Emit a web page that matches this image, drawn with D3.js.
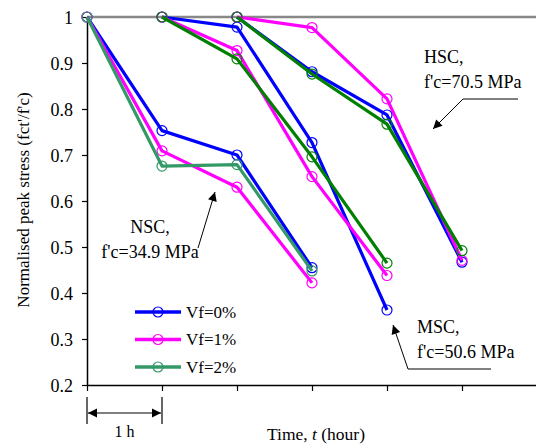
<!DOCTYPE html>
<html>
<head>
<meta charset="utf-8">
<script src="https://cdn.jsdelivr.net/npm/d3@7"></script>
<style>
  body { margin: 0; background: #fff; }
</style>
</head>
<body>
<svg id="chart" width="536" height="446"></svg>
<script>
// hours from start of exposure
var nscTime = [0, 1, 2, 3];
var mscTime = [1, 2, 3, 4];
var hscTime = [2, 3, 4, 5];

// normalised peak stress
var nscVf0 = [1, 0.753, 0.700, 0.455];
var nscVf1 = [1, 0.709, 0.630, 0.422];
var nscVf2 = [1, 0.676, 0.679, 0.448];

var mscVf0 = [1, 0.978, 0.727, 0.363];
var mscVf1 = [1, 0.927, 0.653, 0.438];
var mscVf2 = [1, 0.909, 0.696, 0.465];

var hscVf0 = [1, 0.881, 0.787, 0.467];
var hscVf1 = [1, 0.977, 0.822, 0.471];
var hscVf2 = [1, 0.876, 0.767, 0.492];

var yTicks = [0.2, 0.3, 0.4, 0.5, 0.6, 0.7, 0.8, 0.9, 1];
var xTicks = [0, 1, 2, 3, 4, 5, 6];
var legendLabels = ["Vf=0%", "Vf=1%", "Vf=2%"];

var blue = "#0000ff", pink = "#ff00ff", seaGreen = "#339966", green = "#008000";
var serif = "'Liberation Serif', 'Times New Roman', Times, 'DejaVu Serif', serif";

var svg = d3.select("#chart");
var x = d3.scaleLinear().domain([0, 6]).range([87, 537]);
var y = d3.scaleLinear().domain([0.2, 1]).range([385, 17]);

// reference line at 1
svg.append("line")
  .attr("x1", x(0)).attr("x2", 536)
  .attr("y1", y(1)).attr("y2", y(1))
  .attr("stroke", "#888").attr("stroke-width", 2.5);

// axes
var yAxis = svg.append("g")
  .attr("transform", "translate(" + x(0) + ",0)")
  .call(d3.axisLeft(y).tickValues(yTicks).tickSize(5).tickSizeOuter(0)
    .tickFormat(function(d) { return d === 1 ? "1" : d.toFixed(1); }));
yAxis.attr("font-family", serif);
yAxis.select(".domain").attr("stroke-width", 1.5);
yAxis.selectAll("line").attr("stroke-width", 1.2);
yAxis.selectAll("text").attr("font-size", 18).attr("x", -14).attr("dy", "0.34em");

var xAxis = svg.append("g")
  .attr("transform", "translate(0," + y(0.2) + ")")
  .call(d3.axisBottom(x).tickValues(xTicks).tickSize(6).tickSizeOuter(0).tickFormat(""));
xAxis.select(".domain").attr("stroke-width", 1.5);
xAxis.selectAll("line").attr("stroke-width", 1.2);

// axis titles
svg.append("text")
  .attr("transform", "translate(29,200) rotate(-90)")
  .attr("text-anchor", "middle")
  .attr("font-family", serif)
  .attr("font-size", 17)
  .text("Normalised peak stress (fct'/f'c)");

var xt = svg.append("text")
  .attr("x", 316).attr("y", 440)
  .attr("text-anchor", "middle")
  .attr("font-family", serif)
  .attr("font-size", 17.5);
xt.append("tspan").text("Time, ");
xt.append("tspan").attr("font-style", "italic").text("t");
xt.append("tspan").text(" (hour)");

// series
var line = d3.line()
  .x(function(d) { return x(d[0]); })
  .y(function(d) { return y(d[1]); });

function drawSeries(times, values, color) {
  var pts = times.map(function(t, i) { return [t, values[i]]; });
  svg.append("path")
    .datum(pts)
    .attr("d", line)
    .attr("fill", "none")
    .attr("stroke", color)
    .attr("stroke-width", 3.2)
    .attr("stroke-linejoin", "round");
  svg.append("g").selectAll("circle")
    .data(pts)
    .join("circle")
    .attr("cx", function(d) { return x(d[0]); })
    .attr("cy", function(d) { return y(d[1]); })
    .attr("r", 5)
    .attr("fill", "none")
    .attr("stroke", color)
    .attr("stroke-width", 1.2);
}

drawSeries(nscTime, nscVf0, blue);
drawSeries(nscTime, nscVf1, pink);
drawSeries(nscTime, nscVf2, seaGreen);
drawSeries(mscTime, mscVf0, blue);
drawSeries(mscTime, mscVf1, pink);
drawSeries(mscTime, mscVf2, green);
drawSeries(hscTime, hscVf0, blue);
drawSeries(hscTime, hscVf1, pink);
drawSeries(hscTime, hscVf2, green);

// legend
var legendColors = [blue, pink, seaGreen];
var lg = svg.append("g").selectAll("g")
  .data(legendLabels)
  .join("g")
  .attr("transform", function(d, i) { return "translate(135," + (312 + i * 27.5) + ")"; });
lg.append("line")
  .attr("x1", 0).attr("x2", 46)
  .attr("stroke", function(d, i) { return legendColors[i]; })
  .attr("stroke-width", 3.5);
lg.append("circle")
  .attr("cx", 23).attr("r", 5).attr("fill", "none")
  .attr("stroke", function(d, i) { return legendColors[i]; })
  .attr("stroke-width", 1.2);
lg.append("text")
  .attr("x", 51).attr("dy", "0.35em")
  .attr("font-family", serif)
  .attr("font-size", 17)
  .text(function(d) { return d; });

// arrowhead markers
var defs = svg.append("defs");
defs.append("marker")
  .attr("id", "arrow")
  .attr("viewBox", "0 0 10 10")
  .attr("refX", 10).attr("refY", 5)
  .attr("markerWidth", 18).attr("markerHeight", 9)
  .attr("markerUnits", "userSpaceOnUse")
  .attr("orient", "auto-start-reverse")
  .append("path").attr("d", "M0,0L10,5L0,10z").attr("fill", "#000");
defs.append("marker")
  .attr("id", "arrowS")
  .attr("viewBox", "0 0 10 10")
  .attr("refX", 10).attr("refY", 5)
  .attr("markerWidth", 9).attr("markerHeight", 10)
  .attr("markerUnits", "userSpaceOnUse")
  .attr("orient", "auto-start-reverse")
  .append("path").attr("d", "M0,0L10,5L0,10z").attr("fill", "#000");

// annotations
function note(lines, tx, ty, anchor, path) {
  var t = svg.append("text")
    .attr("font-family", serif)
    .attr("font-size", 18)
    .attr("text-anchor", anchor);
  lines.forEach(function(s, i) {
    t.append("tspan").attr("x", tx).attr("y", ty + i * 24.5).text(s);
  });
  svg.append("path")
    .attr("d", d3.line()(path))
    .attr("fill", "none")
    .attr("stroke", "#000")
    .attr("stroke-width", 1)
    .attr("marker-end", "url(#arrow)");
}

note(["NSC,", "f'c=34.9 MPa"], 150, 233, "middle", [[198, 248], [215, 192]]);
note(["HSC,", "f'c=70.5 MPa"], 424, 63, "start", [[518, 99], [463, 99], [433, 129]]);
note(["MSC,", "f'c=50.6 MPa"], 417, 333, "start", [[491, 369], [408, 369], [393, 325]]);

// 1 h scale marker
[0, 1].forEach(function(t) {
  svg.append("line").attr("x1", x(t)).attr("x2", x(t)).attr("y1", 397).attr("y2", 424)
    .attr("stroke", "#000").attr("stroke-width", 1.2);
});
svg.append("line").attr("x1", x(0) + 1).attr("x2", x(1) - 1).attr("y1", 413).attr("y2", 413)
  .attr("stroke", "#555").attr("stroke-width", 1.5)
  .attr("marker-start", "url(#arrowS)").attr("marker-end", "url(#arrowS)");
svg.append("text").attr("x", (x(0) + x(1)) / 2).attr("y", 437)
  .attr("text-anchor", "middle")
  .attr("font-family", serif)
  .attr("font-size", 16).text("1 h");
</script>
</body>
</html>
